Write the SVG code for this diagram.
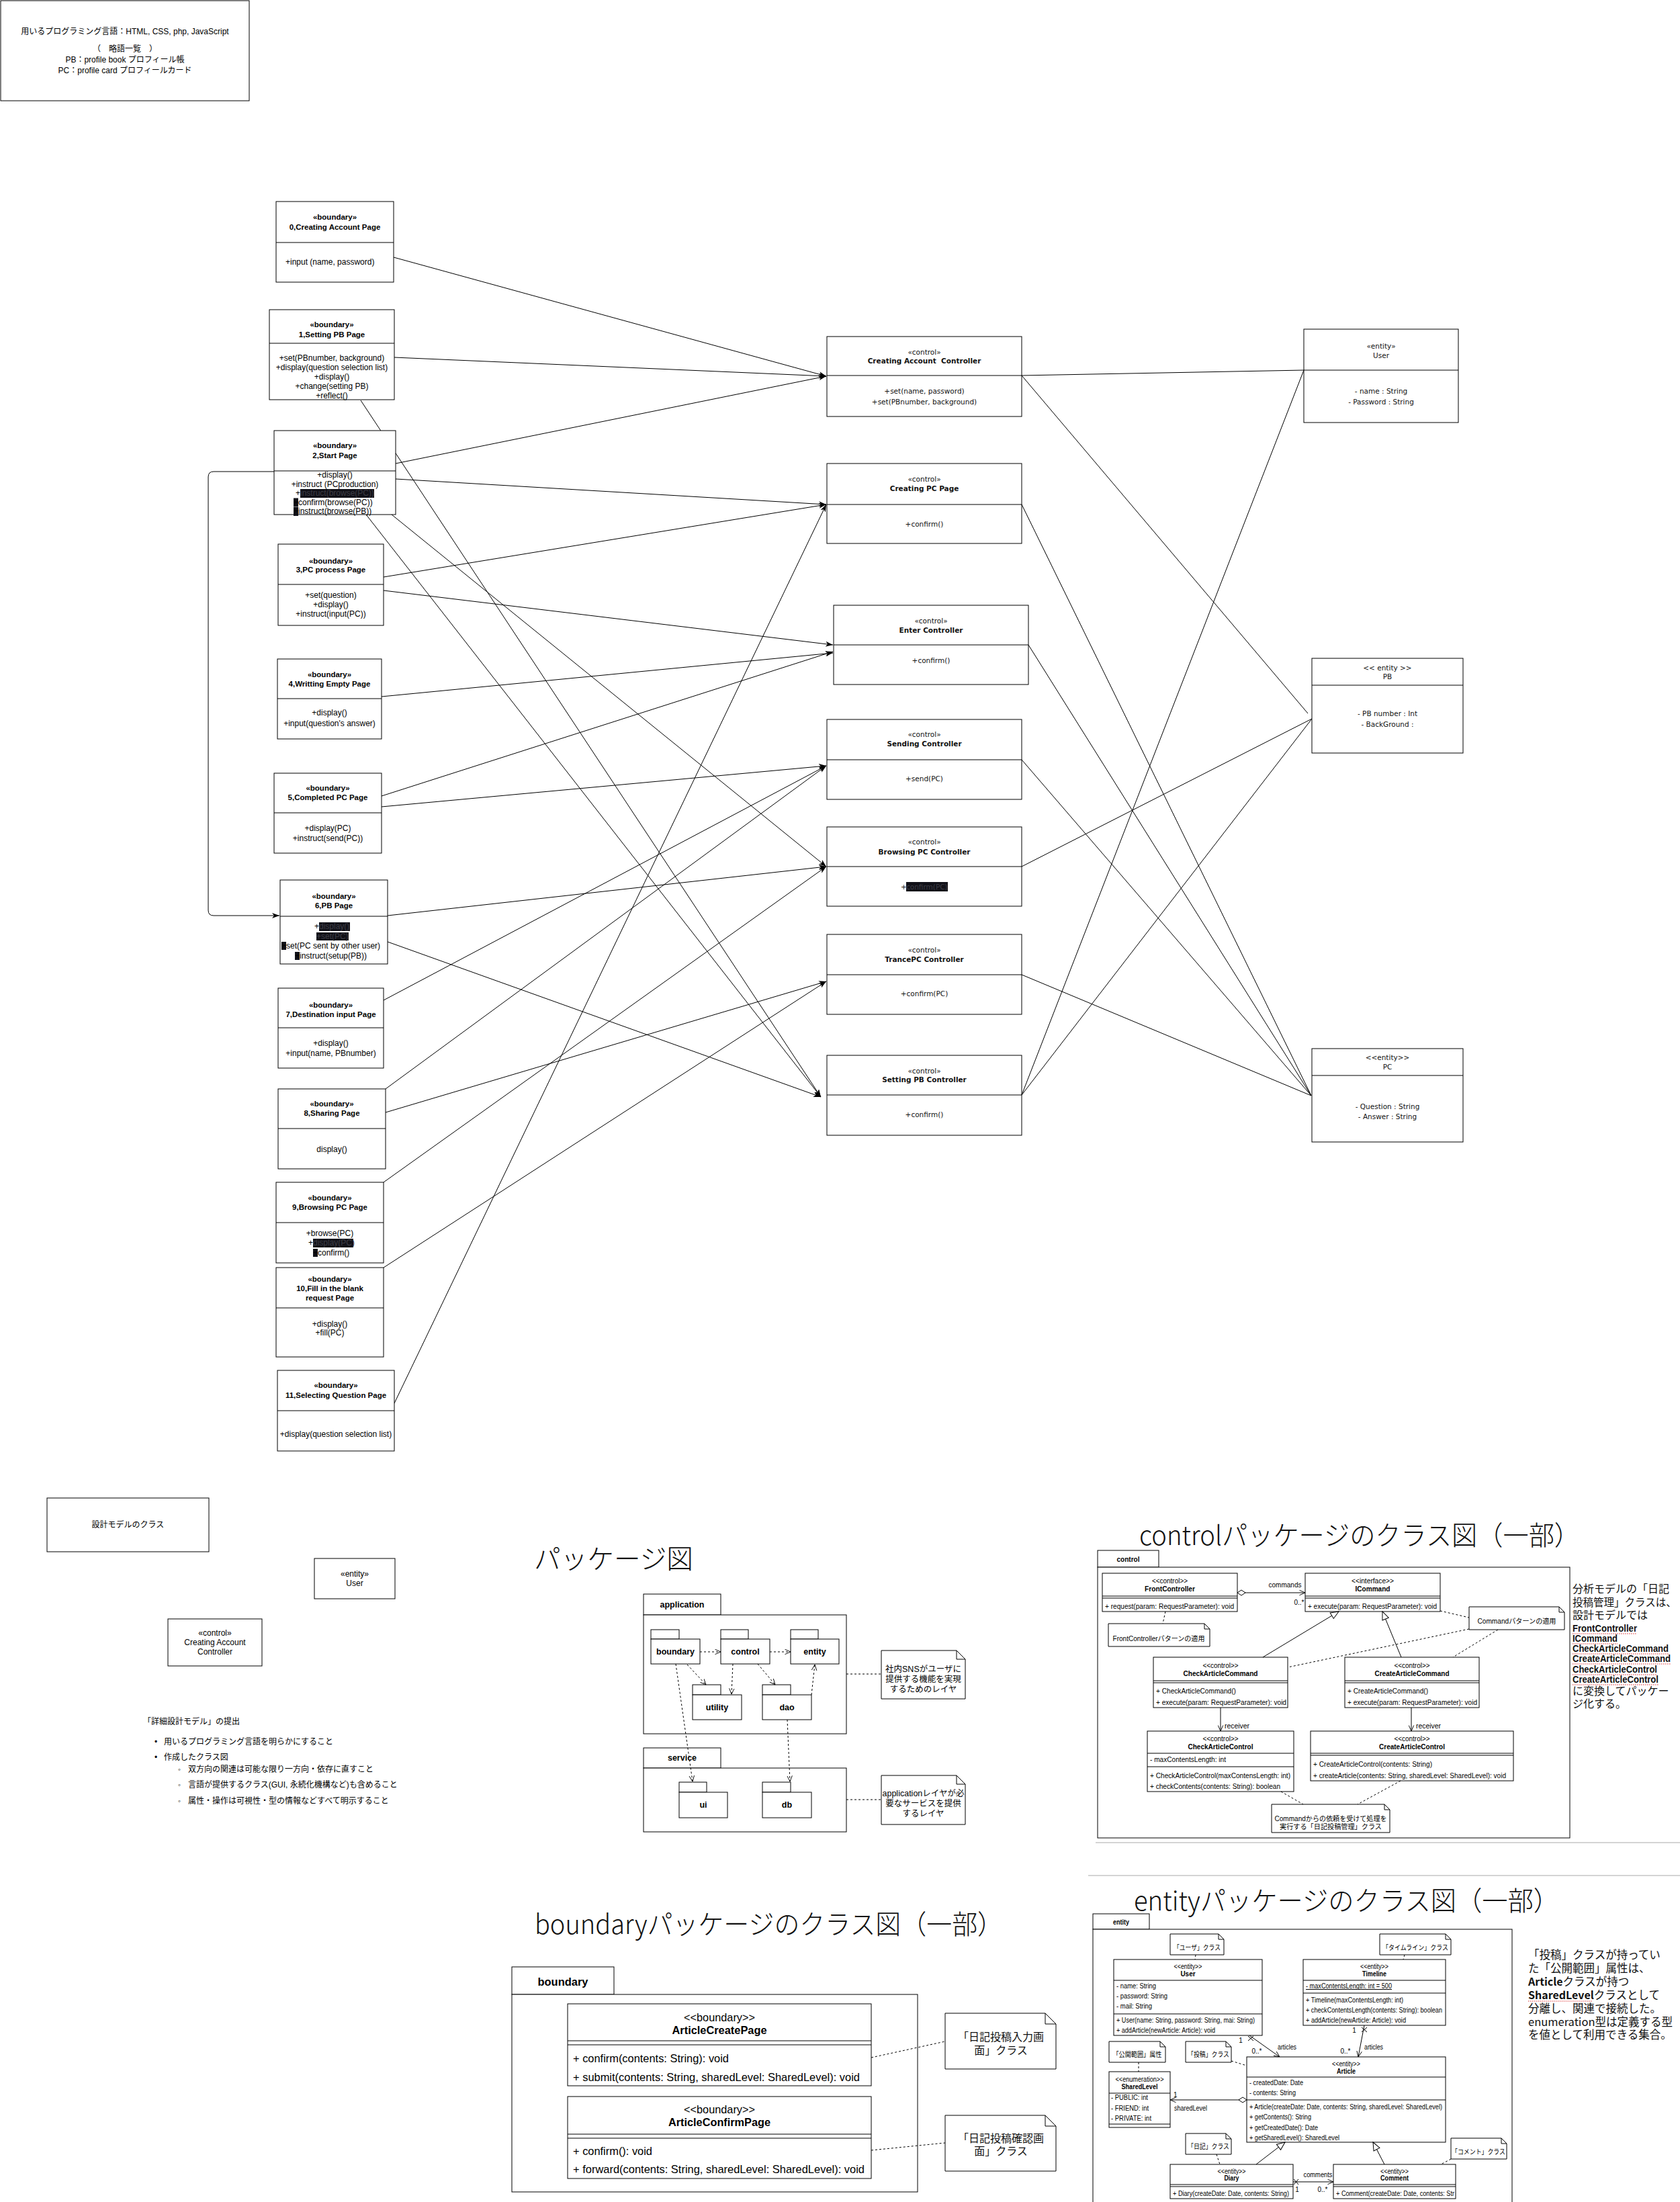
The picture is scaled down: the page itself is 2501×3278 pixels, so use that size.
<svg xmlns="http://www.w3.org/2000/svg" width="2501" height="3278" viewBox="0 0 2501 3278">
<defs>
<style>
text{font-family:"Liberation Sans","Noto Sans CJK JP",sans-serif;fill:#000}
.c{text-anchor:middle}
.bo{font-weight:bold}
.s12{font-size:12px}
.s11{font-size:11.5px;font-weight:bold}
.d{font-family:"DejaVu Sans","Noto Sans CJK JP",sans-serif;font-size:10.5px;fill:#111}
.dn{font-family:"DejaVu Sans","Noto Sans CJK JP",sans-serif;font-size:10.5px;font-weight:bold;fill:#111}
.k{font-size:10px}
.kn{font-size:10px;font-weight:bold}
.p{font-size:12.5px}
.pb{font-size:12.5px;font-weight:bold}
.bf{font-size:17px}
.bfn{font-size:17px;font-weight:bold}
.ttl{font-family:"Noto Sans CJK JP",sans-serif;font-weight:300;font-size:40px;fill:#111}
.rt{font-family:"Noto Sans CJK JP","Liberation Sans",sans-serif;font-size:16px;fill:#111}
.rb{font-size:16px;font-weight:bold;fill:#111}
.rb2{font-size:14.5px;font-weight:bold;fill:#111}
.box{fill:#fff;stroke:#000;stroke-width:1}
.ln{fill:none;stroke:#000;stroke-width:1}
.dl{fill:none;stroke:#000;stroke-width:1;stroke-dasharray:3 3}
.hl{fill:#111118}
.ht{fill:#3c3c44}
.sq{fill:none;stroke:#e03030;stroke-width:1.2;stroke-dasharray:1.5 1.5}
.sep{stroke:#d4d4d4;stroke-width:2}
</style>
<marker id="af" viewBox="0 0 11 8" refX="11" refY="4" markerWidth="11" markerHeight="8" markerUnits="userSpaceOnUse" orient="auto"><path d="M0,0 L11,4 L0,8 L3,4 z" fill="#000"/></marker>
<marker id="ao" viewBox="0 0 10 10" refX="9.5" refY="5" markerWidth="9" markerHeight="9" markerUnits="userSpaceOnUse" orient="auto"><path d="M0,0.8 L9.5,5 L0,9.2" fill="none" stroke="#000" stroke-width="1"/></marker>
<marker id="tri" viewBox="0 0 14 12" refX="13" refY="6" markerWidth="14" markerHeight="12" markerUnits="userSpaceOnUse" orient="auto"><path d="M1,1 L13,6 L1,11 z" fill="#fff" stroke="#000"/></marker>
<marker id="dia" viewBox="0 0 14 10" refX="1" refY="5" markerWidth="14" markerHeight="10" markerUnits="userSpaceOnUse" orient="auto"><path d="M1,5 L7,1 L13,5 L7,9 z" fill="#fff" stroke="#000"/></marker>
</defs>
<rect x="0" y="0" width="2501" height="3278" fill="#fff"/>

<g id="header">
<rect class="box" x="1" y="1" width="370" height="149"/>
<text class="s12 c" x="186" y="51">用いるプログラミング言語：HTML, CSS, php, JavaScript</text>
<text class="s12 c" x="186" y="77">（　略語一覧　）</text>
<text class="s12 c" x="186" y="93">PB：profile book プロフィール帳</text>
<text class="s12 c" x="186" y="109">PC：profile card プロフィールカード</text>
</g>

<g id="connectors">
<line class="ln" x1="586" y1="383" x2="1230" y2="560" marker-end="url(#af)"/>
<line class="ln" x1="587" y1="532" x2="1230" y2="560" marker-end="url(#af)"/>
<line class="ln" x1="589" y1="690" x2="1230" y2="560" marker-end="url(#af)"/>
<line class="ln" x1="537" y1="596" x2="1222" y2="1633" marker-end="url(#af)"/>
<line class="ln" x1="589" y1="713" x2="1230" y2="751" marker-end="url(#af)"/>
<line class="ln" x1="583" y1="766" x2="1230" y2="1290" marker-end="url(#af)"/>
<line class="ln" x1="545" y1="766" x2="1222" y2="1633" marker-end="url(#af)"/>
<line class="ln" x1="571" y1="859" x2="1230" y2="751" marker-end="url(#af)"/>
<line class="ln" x1="571" y1="879" x2="1240" y2="960" marker-end="url(#af)"/>
<line class="ln" x1="568" y1="1037" x2="1240" y2="972" marker-end="url(#af)"/>
<line class="ln" x1="568" y1="1185" x2="1240" y2="970" marker-end="url(#af)"/>
<line class="ln" x1="568" y1="1201" x2="1230" y2="1140" marker-end="url(#af)"/>
<line class="ln" x1="577" y1="1363" x2="1230" y2="1290" marker-end="url(#af)"/>
<line class="ln" x1="577" y1="1402" x2="1222" y2="1633" marker-end="url(#af)"/>
<line class="ln" x1="571" y1="1489" x2="1230" y2="1140" marker-end="url(#af)"/>
<line class="ln" x1="574" y1="1621" x2="1230" y2="1140" marker-end="url(#af)"/>
<line class="ln" x1="574" y1="1656" x2="1230" y2="1461" marker-end="url(#af)"/>
<line class="ln" x1="571" y1="1760" x2="1230" y2="1290" marker-end="url(#af)"/>
<line class="ln" x1="571" y1="1887" x2="1230" y2="1461" marker-end="url(#af)"/>
<line class="ln" x1="587" y1="2089" x2="1230" y2="751" marker-end="url(#af)"/>
<path class="ln" d="M408,702 H318 Q310,702 310,710 V1355 Q310,1363 318,1363 H416" marker-end="url(#af)"/>
<line class="ln" x1="1241" y1="960" x2="1258" y2="960" marker-end="url(#af)"/>
<line class="ln" x1="1521" y1="559" x2="1941" y2="551"/>
<line class="ln" x1="1521" y1="559" x2="1947" y2="1062"/>
<line class="ln" x1="1521" y1="751" x2="1952" y2="1631"/>
<line class="ln" x1="1531" y1="960" x2="1952" y2="1631"/>
<line class="ln" x1="1521" y1="1131" x2="1952" y2="1631"/>
<line class="ln" x1="1521" y1="1290" x2="1953" y2="1070"/>
<line class="ln" x1="1521" y1="1451" x2="1952" y2="1631"/>
<line class="ln" x1="1521" y1="1630" x2="1941" y2="551"/>
<line class="ln" x1="1521" y1="1630" x2="1953" y2="1070"/>
</g>

<g id="b0">
<rect class="box" x="411" y="300" width="175" height="120"/>
<line class="ln" x1="411" y1="361" x2="586" y2="361"/>
<text class="s11 c" x="498.5" y="327">«boundary»</text>
<text class="s11 c" x="498.5" y="342">0,Creating Account Page</text>
<text class="s12" x="425" y="394">+input (name, password)</text>
</g>
<g id="b1">
<rect class="box" x="401" y="461" width="186" height="134"/>
<line class="ln" x1="401" y1="511" x2="587" y2="511"/>
<text class="s11 c" x="494" y="487">«boundary»</text>
<text class="s11 c" x="494" y="502">1,Setting PB Page</text>
<text class="s12 c" x="494" y="537">+set(PBnumber, background)</text>
<text class="s12 c" x="494" y="551">+display(question selection list)</text>
<text class="s12 c" x="494" y="565">+display()</text>
<text class="s12 c" x="494" y="579">+change(setting PB)</text>
<text class="s12 c" x="494" y="593">+reflect()</text>
</g>
<g id="b2">
<rect class="box" x="408" y="641" width="181" height="125"/>
<line class="ln" x1="408" y1="701" x2="589" y2="701"/>
<text class="s11 c" x="498.5" y="667">«boundary»</text>
<text class="s11 c" x="498.5" y="682">2,Start Page</text>
<text class="s12 c" x="498.5" y="711">+display()</text>
<text class="s12 c" x="498.5" y="724.5">+instruct (PCproduction)</text>
<text class="s12" x="440" y="738">+</text>
<rect class="hl" x="447" y="728" width="110" height="13"/>
<text class="s12 ht" x="447" y="738">instruct(browse(PC))</text>
<rect class="hl" x="437" y="741.5" width="7" height="13"/>
<text class="s12" x="437" y="751.5">+confirm(browse(PC))</text>
<rect class="hl" x="437" y="755" width="7" height="13"/>
<text class="s12" x="437" y="765">+instruct(browse(PB))</text>
</g>
<g id="b3">
<rect class="box" x="414" y="810" width="157" height="121"/>
<line class="ln" x1="414" y1="870" x2="571" y2="870"/>
<text class="s11 c" x="492.5" y="839">«boundary»</text>
<text class="s11 c" x="492.5" y="852">3,PC process Page</text>
<text class="s12 c" x="492.5" y="890">+set(question)</text>
<text class="s12 c" x="492.5" y="904">+display()</text>
<text class="s12 c" x="492.5" y="918">+instruct(input(PC))</text>
</g>
<g id="b4">
<rect class="box" x="413" y="981" width="155" height="119"/>
<line class="ln" x1="413" y1="1040" x2="568" y2="1040"/>
<text class="s11 c" x="490.5" y="1008">«boundary»</text>
<text class="s11 c" x="490.5" y="1022">4,Writting Empty Page</text>
<text class="s12 c" x="490.5" y="1065">+display()</text>
<text class="s12 c" x="490.5" y="1081">+input(question's answer)</text>
</g>
<g id="b5">
<rect class="box" x="408" y="1151" width="160" height="119"/>
<line class="ln" x1="408" y1="1210" x2="568" y2="1210"/>
<text class="s11 c" x="488" y="1177">«boundary»</text>
<text class="s11 c" x="488" y="1191">5,Completed PC Page</text>
<text class="s12 c" x="488" y="1237">+display(PC)</text>
<text class="s12 c" x="488" y="1252">+instruct(send(PC))</text>
</g>
<g id="b6">
<rect class="box" x="417" y="1310" width="160" height="125"/>
<line class="ln" x1="417" y1="1364" x2="577" y2="1364"/>
<text class="s11 c" x="497" y="1338">«boundary»</text>
<text class="s11 c" x="497" y="1352">6,PB Page</text>
<text class="s12" x="468" y="1383">+</text>
<rect class="hl" x="475" y="1373" width="46" height="13"/>
<text class="s12 ht" x="475" y="1383">display()</text>
<rect class="hl" x="471" y="1388" width="48" height="12"/>
<text class="s12 ht" x="471" y="1398">+set(PC)</text>
<rect class="hl" x="419" y="1402" width="7" height="12"/>
<text class="s12" x="419" y="1412">+set(PC sent by other user)</text>
<rect class="hl" x="439" y="1417" width="7" height="12"/>
<text class="s12" x="439" y="1427">+instruct(setup(PB))</text>
</g>
<g id="b7">
<rect class="box" x="414" y="1471" width="157" height="119"/>
<line class="ln" x1="414" y1="1530" x2="571" y2="1530"/>
<text class="s11 c" x="492.5" y="1500">«boundary»</text>
<text class="s11 c" x="492.5" y="1514">7,Destination input Page</text>
<text class="s12 c" x="492.5" y="1557">+display()</text>
<text class="s12 c" x="492.5" y="1572">+input(name, PBnumber)</text>
</g>
<g id="b8">
<rect class="box" x="414" y="1621" width="160" height="119"/>
<line class="ln" x1="414" y1="1680" x2="574" y2="1680"/>
<text class="s11 c" x="494" y="1647">«boundary»</text>
<text class="s11 c" x="494" y="1661">8,Sharing Page</text>
<text class="s12 c" x="494" y="1715">display()</text>
</g>
<g id="b9">
<rect class="box" x="411" y="1760" width="160" height="120"/>
<line class="ln" x1="411" y1="1820" x2="571" y2="1820"/>
<text class="s11 c" x="491" y="1787">«boundary»</text>
<text class="s11 c" x="491" y="1801">9,Browsing PC Page</text>
<text class="s12 c" x="491" y="1840">+browse(PC)</text>
<text class="s12" x="459" y="1854">+</text>
<rect class="hl" x="466" y="1844" width="60" height="13"/>
<text class="s12 ht" x="466" y="1854">display(PC)</text>
<rect class="hl" x="466" y="1859" width="7" height="12"/>
<text class="s12" x="466" y="1869">+confirm()</text>
</g>
<g id="b10">
<rect class="box" x="411" y="1887" width="160" height="133"/>
<line class="ln" x1="411" y1="1947" x2="571" y2="1947"/>
<text class="s11 c" x="491" y="1908">«boundary»</text>
<text class="s11 c" x="491" y="1922">10,Fill in the blank</text>
<text class="s11 c" x="491" y="1936">request Page</text>
<text class="s12 c" x="491" y="1975">+display()</text>
<text class="s12 c" x="491" y="1988">+fill(PC)</text>
</g>
<g id="b11">
<rect class="box" x="413" y="2040" width="174" height="120"/>
<line class="ln" x1="413" y1="2100" x2="587" y2="2100"/>
<text class="s11 c" x="500" y="2066">«boundary»</text>
<text class="s11 c" x="500" y="2081">11,Selecting Question Page</text>
<text class="s12 c" x="500" y="2139">+display(question selection list)</text>
</g>

<g id="c1">
<rect class="box" x="1231" y="501" width="290" height="119"/>
<line class="ln" x1="1231" y1="559" x2="1521" y2="559"/>
<text class="d c" x="1376" y="528">«control»</text>
<text class="dn c" x="1376" y="541">Creating Account&#160; Controller</text>
<text class="d c" x="1376" y="586">+set(name, password)</text>
<text class="d c" x="1376" y="602">+set(PBnumber, background)</text>
</g>
<g id="c2">
<rect class="box" x="1231" y="690" width="290" height="119"/>
<line class="ln" x1="1231" y1="751" x2="1521" y2="751"/>
<text class="d c" x="1376" y="717">«control»</text>
<text class="dn c" x="1376" y="731">Creating PC Page</text>
<text class="d c" x="1376" y="784">+confirm()</text>
</g>
<g id="c3">
<rect class="box" x="1241" y="901" width="290" height="118"/>
<line class="ln" x1="1241" y1="960" x2="1531" y2="960"/>
<text class="d c" x="1386" y="928">«control»</text>
<text class="dn c" x="1386" y="942">Enter Controller</text>
<text class="d c" x="1386" y="987">+confirm()</text>
</g>
<g id="c4">
<rect class="box" x="1231" y="1071" width="290" height="119"/>
<line class="ln" x1="1231" y1="1131" x2="1521" y2="1131"/>
<text class="d c" x="1376" y="1097">«control»</text>
<text class="dn c" x="1376" y="1111">Sending Controller</text>
<text class="d c" x="1376" y="1163">+send(PC)</text>
</g>
<g id="c5">
<rect class="box" x="1231" y="1231" width="290" height="118"/>
<line class="ln" x1="1231" y1="1290" x2="1521" y2="1290"/>
<text class="d c" x="1376" y="1257">«control»</text>
<text class="dn c" x="1376" y="1272">Browsing PC Controller</text>
<text class="d" x="1341" y="1324">+</text>
<rect class="hl" x="1349" y="1313" width="62" height="14"/>
<text class="d ht" x="1349" y="1324">confirm(PC)</text>
</g>
<g id="c6">
<rect class="box" x="1231" y="1391" width="290" height="119"/>
<line class="ln" x1="1231" y1="1451" x2="1521" y2="1451"/>
<text class="d c" x="1376" y="1418">«control»</text>
<text class="dn c" x="1376" y="1432">TrancePC Controller</text>
<text class="d c" x="1376" y="1483">+confirm(PC)</text>
</g>
<g id="c7">
<rect class="box" x="1231" y="1571" width="290" height="119"/>
<line class="ln" x1="1231" y1="1630" x2="1521" y2="1630"/>
<text class="d c" x="1376" y="1598">«control»</text>
<text class="dn c" x="1376" y="1611">Setting PB Controller</text>
<text class="d c" x="1376" y="1663">+confirm()</text>
</g>

<g id="e-user">
<rect class="box" x="1941" y="490" width="230" height="139"/>
<line class="ln" x1="1941" y1="551" x2="2171" y2="551"/>
<text class="d c" x="2056" y="519">«entity»</text>
<text class="d c" x="2056" y="533">User</text>
<text class="d c" x="2056" y="586">- name : String</text>
<text class="d c" x="2056" y="602">- Password : String</text>
</g>
<g id="e-pb">
<rect class="box" x="1953" y="980" width="225" height="141"/>
<line class="ln" x1="1953" y1="1020" x2="2178" y2="1020"/>
<text class="d c" x="2065.5" y="998">&lt;&lt; entity &gt;&gt;</text>
<text class="d c" x="2065.5" y="1011">PB</text>
<text class="d c" x="2065.5" y="1066">- PB number : Int</text>
<text class="d c" x="2065.5" y="1082">- BackGround :</text>
</g>
<g id="e-pc">
<rect class="box" x="1953" y="1561" width="225" height="139"/>
<line class="ln" x1="1953" y1="1601" x2="2178" y2="1601"/>
<text class="d c" x="2065.5" y="1578">&lt;&lt;entity&gt;&gt;</text>
<text class="d c" x="2065.5" y="1592">PC</text>
<text class="d c" x="2065.5" y="1651">- Question : String</text>
<text class="d c" x="2065.5" y="1666">- Answer : String</text>
</g>

<g id="design-model">
<rect class="box" x="70" y="2230" width="241" height="80"/>
<text class="s12 c" x="190.5" y="2274">設計モデルのクラス</text>
<rect class="box" x="468" y="2320" width="120" height="60"/>
<text class="s12 c" x="528" y="2347">«entity»</text>
<text class="s12 c" x="528" y="2361">User</text>
<rect class="box" x="250" y="2410" width="140" height="70"/>
<text class="s12 c" x="320" y="2435">«control»</text>
<text class="s12 c" x="320" y="2449">Creating Account</text>
<text class="s12 c" x="320" y="2463">Controller</text>
</g>
<g id="requirements">
<text class="s12" x="213" y="2567" fill="#222">「詳細設計モデル」の提出</text>
<text class="s12" x="230" y="2597">•</text>
<text class="s12" x="244" y="2597">用いるプログラミング言語を明らかにすること</text>
<text class="s12" x="230" y="2620">•</text>
<text class="s12" x="244" y="2620">作成したクラス図</text>
<text class="s12" x="265" y="2638">◦</text>
<text class="s12" x="280" y="2638">双方向の関連は可能な限り一方向・依存に直すこと</text>
<text class="s12" x="265" y="2661">◦</text>
<text class="s12" x="280" y="2661">言語が提供するクラス(GUI, 永続化機構など)も含めること</text>
<text class="s12" x="265" y="2685">◦</text>
<text class="s12" x="280" y="2685">属性・操作は可視性・型の情報などすべて明示すること</text>
</g>

<g id="package-diagram">
<text class="ttl" x="795" y="2335" textLength="237" lengthAdjust="spacingAndGlyphs">パッケージ図</text>
<rect class="box" x="958" y="2373" width="115" height="31"/>
<rect class="box" x="958" y="2404" width="302" height="177"/>
<text class="pb c" x="1015.5" y="2393">application</text>
<rect class="box" x="969" y="2426" width="42" height="14"/>
<rect class="box" x="969" y="2440" width="73" height="37"/>
<text class="pb c" x="1005.5" y="2463">boundary</text>
<rect class="box" x="1073" y="2426" width="41" height="14"/>
<rect class="box" x="1073" y="2440" width="73" height="37"/>
<text class="pb c" x="1109.5" y="2463">control</text>
<rect class="box" x="1177" y="2426" width="41" height="14"/>
<rect class="box" x="1177" y="2440" width="72" height="37"/>
<text class="pb c" x="1213" y="2463">entity</text>
<rect class="box" x="1031" y="2508" width="42" height="15"/>
<rect class="box" x="1031" y="2523" width="73" height="37"/>
<text class="pb c" x="1067.5" y="2546">utility</text>
<rect class="box" x="1135" y="2508" width="42" height="15"/>
<rect class="box" x="1135" y="2523" width="73" height="37"/>
<text class="pb c" x="1171.5" y="2546">dao</text>
<rect class="box" x="958" y="2602" width="115" height="30"/>
<rect class="box" x="958" y="2632" width="302" height="95"/>
<text class="pb c" x="1015.5" y="2621">service</text>
<rect class="box" x="1011" y="2653" width="41" height="15"/>
<rect class="box" x="1011" y="2668" width="72" height="38"/>
<text class="pb c" x="1047" y="2691">ui</text>
<rect class="box" x="1135" y="2653" width="42" height="15"/>
<rect class="box" x="1135" y="2668" width="73" height="38"/>
<text class="pb c" x="1171.5" y="2691">db</text>
<line class="dl" x1="1042" y1="2459" x2="1073" y2="2459" marker-end="url(#ao)"/>
<line class="dl" x1="1146" y1="2459" x2="1177" y2="2459" marker-end="url(#ao)"/>
<line class="dl" x1="1023" y1="2478" x2="1051" y2="2508" marker-end="url(#ao)"/>
<line class="dl" x1="1091" y1="2477" x2="1089" y2="2522" marker-end="url(#ao)"/>
<line class="dl" x1="1128" y1="2477" x2="1154" y2="2508" marker-end="url(#ao)"/>
<line class="dl" x1="1208" y1="2523" x2="1213" y2="2478" marker-end="url(#ao)"/>
<line class="dl" x1="1006" y1="2477" x2="1031" y2="2652" marker-end="url(#ao)"/>
<line class="dl" x1="1172" y1="2560" x2="1176" y2="2652" marker-end="url(#ao)"/>
<line class="dl" x1="1260" y1="2492" x2="1312" y2="2492"/>
<line class="dl" x1="1260" y1="2679" x2="1312" y2="2679"/>
<path class="box" d="M1312,2457 H1424 L1437,2470 V2529 H1312 Z"/>
<path class="ln" d="M1424,2457 V2470 H1437"/>
<text class="p c" x="1374.5" y="2489">社内SNSがユーザに</text>
<text class="p c" x="1374.5" y="2504">提供する機能を実現</text>
<text class="p c" x="1374.5" y="2519">するためのレイヤ</text>
<path class="box" d="M1312,2643 H1424 L1437,2656 V2716 H1312 Z"/>
<path class="ln" d="M1424,2643 V2656 H1437"/>
<text class="p c" x="1374.5" y="2674" textLength="122" lengthAdjust="spacingAndGlyphs">applicationレイヤが必</text>
<text class="p c" x="1374.5" y="2689">要なサービスを提供</text>
<text class="p c" x="1374.5" y="2704">するレイヤ</text>
</g>

<g id="control-class-diagram">
<text class="ttl" x="1696" y="2300" textLength="656" lengthAdjust="spacingAndGlyphs">controlパッケージのクラス図（一部）</text>
<rect class="box" x="1634" y="2308" width="91" height="25"/>
<rect class="box" x="1634" y="2333" width="703" height="403"/>
<text class="kn c" x="1679.5" y="2325" textLength="34" lengthAdjust="spacingAndGlyphs">control</text>
<rect class="box" x="1641" y="2342" width="201" height="57"/>
<line class="ln" x1="1641" y1="2376" x2="1842" y2="2376"/>
<line class="ln" x1="1641" y1="2379" x2="1842" y2="2379"/>
<text class="k c" x="1741.5" y="2356.5" textLength="53" lengthAdjust="spacingAndGlyphs">&lt;&lt;control&gt;&gt;</text>
<text class="kn c" x="1741.5" y="2368.5" textLength="75" lengthAdjust="spacingAndGlyphs">FrontController</text>
<text class="k" x="1645" y="2394.5" textLength="192" lengthAdjust="spacingAndGlyphs">+ request(param: RequestParameter): void</text>
<rect class="box" x="1943" y="2342" width="201" height="57"/>
<line class="ln" x1="1943" y1="2376" x2="2144" y2="2376"/>
<line class="ln" x1="1943" y1="2379" x2="2144" y2="2379"/>
<text class="k c" x="2043.5" y="2356.5" textLength="63" lengthAdjust="spacingAndGlyphs">&lt;&lt;interface&gt;&gt;</text>
<text class="kn c" x="2043.5" y="2368.5" textLength="52" lengthAdjust="spacingAndGlyphs">ICommand</text>
<text class="k" x="1947" y="2394.5" textLength="192" lengthAdjust="spacingAndGlyphs">+ execute(param: RequestParameter): void</text>
<line class="ln" x1="1842" y1="2371" x2="1943" y2="2371" marker-start="url(#dia)" marker-end="url(#ao)"/>
<text class="k c" x="1913" y="2362.5" textLength="49" lengthAdjust="spacingAndGlyphs">commands</text>
<text class="k c" x="1934" y="2388.5">0..*</text>
<line class="dl" x1="1735" y1="2399" x2="1731" y2="2417"/>
<path class="box" d="M1650,2417 H1793 L1801,2425 V2451 H1650 Z"/>
<path class="ln" d="M1793,2417 V2425 H1801"/>
<text class="k c" x="1725" y="2442.5" textLength="137" lengthAdjust="spacingAndGlyphs">FrontControllerパターンの適用</text>
<line class="dl" x1="2144" y1="2398" x2="2187" y2="2408"/>
<line class="dl" x1="2187" y1="2425" x2="1917" y2="2482"/>
<line class="dl" x1="2230" y1="2426" x2="2163" y2="2467"/>
<path class="box" d="M2187,2392 H2321 L2329,2400 V2426 H2187 Z"/>
<path class="ln" d="M2321,2392 V2400 H2329"/>
<text class="k c" x="2258" y="2416.5" textLength="117" lengthAdjust="spacingAndGlyphs">Commandパターンの適用</text>
<rect class="box" x="1717" y="2467" width="200" height="75"/>
<line class="ln" x1="1717" y1="2502" x2="1917" y2="2502"/>
<line class="ln" x1="1717" y1="2505" x2="1917" y2="2505"/>
<text class="k c" x="1817" y="2482.5" textLength="53" lengthAdjust="spacingAndGlyphs">&lt;&lt;control&gt;&gt;</text>
<text class="kn c" x="1817" y="2494.5" textLength="111" lengthAdjust="spacingAndGlyphs">CheckArticleCommand</text>
<text class="k" x="1721" y="2520.5" textLength="119" lengthAdjust="spacingAndGlyphs">+ CheckArticleCommand()</text>
<text class="k" x="1721" y="2537.5" textLength="194" lengthAdjust="spacingAndGlyphs">+ execute(param: RequestParameter): void</text>
<rect class="box" x="2002" y="2467" width="200" height="75"/>
<line class="ln" x1="2002" y1="2502" x2="2202" y2="2502"/>
<line class="ln" x1="2002" y1="2505" x2="2202" y2="2505"/>
<text class="k c" x="2102" y="2482.5" textLength="53" lengthAdjust="spacingAndGlyphs">&lt;&lt;control&gt;&gt;</text>
<text class="kn c" x="2102" y="2494.5" textLength="111" lengthAdjust="spacingAndGlyphs">CreateArticleCommand</text>
<text class="k" x="2006" y="2520.5" textLength="120" lengthAdjust="spacingAndGlyphs">+ CreateArticleCommand()</text>
<text class="k" x="2006" y="2537.5" textLength="193" lengthAdjust="spacingAndGlyphs">+ execute(param: RequestParameter): void</text>
<line class="ln" x1="1880" y1="2467" x2="1993" y2="2399" marker-end="url(#tri)"/>
<line class="ln" x1="2086" y1="2467" x2="2058" y2="2399" marker-end="url(#tri)"/>
<line class="ln" x1="1817" y1="2542" x2="1817" y2="2577" marker-end="url(#ao)"/>
<text class="k" x="1823" y="2572.5" textLength="37" lengthAdjust="spacingAndGlyphs">receiver</text>
<line class="ln" x1="2101" y1="2542" x2="2101" y2="2577" marker-end="url(#ao)"/>
<text class="k" x="2108" y="2572.5" textLength="37" lengthAdjust="spacingAndGlyphs">receiver</text>
<rect class="box" x="1708" y="2577" width="218" height="90"/>
<line class="ln" x1="1708" y1="2610" x2="1926" y2="2610"/>
<line class="ln" x1="1708" y1="2630" x2="1926" y2="2630"/>
<text class="k c" x="1817" y="2591.5" textLength="53" lengthAdjust="spacingAndGlyphs">&lt;&lt;control&gt;&gt;</text>
<text class="kn c" x="1817" y="2603.5" textLength="97" lengthAdjust="spacingAndGlyphs">CheckArticleControl</text>
<text class="k" x="1712" y="2622.5" textLength="113" lengthAdjust="spacingAndGlyphs">- maxContentsLength: int</text>
<text class="k" x="1712" y="2646.5" textLength="209" lengthAdjust="spacingAndGlyphs">+ CheckArticleControl(maxContensLength: int)</text>
<text class="k" x="1712" y="2662.5" textLength="194" lengthAdjust="spacingAndGlyphs">+ checkContents(contents: String): boolean</text>
<rect class="box" x="1951" y="2577" width="302" height="74"/>
<line class="ln" x1="1951" y1="2610" x2="2253" y2="2610"/>
<line class="ln" x1="1951" y1="2613" x2="2253" y2="2613"/>
<text class="k c" x="2102" y="2591.5" textLength="53" lengthAdjust="spacingAndGlyphs">&lt;&lt;control&gt;&gt;</text>
<text class="kn c" x="2102" y="2603.5" textLength="98" lengthAdjust="spacingAndGlyphs">CreateArticleControl</text>
<text class="k" x="1955" y="2629.5" textLength="177" lengthAdjust="spacingAndGlyphs">+ CreateArticleControl(contents: String)</text>
<text class="k" x="1955" y="2646.5" textLength="287" lengthAdjust="spacingAndGlyphs">+ createArticle(contents: String, sharedLevel: SharedLevel): void</text>
<line class="dl" x1="1907" y1="2667" x2="1940" y2="2686"/>
<line class="dl" x1="2085" y1="2651" x2="2021" y2="2686"/>
<path class="box" d="M1893,2686 H2061 L2069,2694 V2728 H1893 Z"/>
<path class="ln" d="M2061,2686 V2694 H2069"/>
<text class="k c" x="1981" y="2710.5" textLength="167" lengthAdjust="spacingAndGlyphs">Commandからの依頼を受けて処理を</text>
<text class="k c" x="1981" y="2722.5" textLength="152" lengthAdjust="spacingAndGlyphs">実行する「日記投稿管理」クラス</text>
</g>
<g id="control-notes">
<text class="rt" x="2341" y="2371">分析モデルの「日記</text>
<text class="rt" x="2341" y="2391" style="font-size:15.5px">投稿管理」クラスは、</text>
<text class="rt" x="2341" y="2410">設計モデルでは</text>
<text class="rb2" x="2341" y="2429" textLength="96" lengthAdjust="spacingAndGlyphs">FrontController</text>
<text class="rb2" x="2341" y="2444" textLength="67" lengthAdjust="spacingAndGlyphs">ICommand</text>
<text class="rb2" x="2341" y="2459" textLength="143" lengthAdjust="spacingAndGlyphs">CheckArticleCommand</text>
<text class="rb2" x="2341" y="2474" textLength="146" lengthAdjust="spacingAndGlyphs">CreateArticleCommand</text>
<text class="rb2" x="2341" y="2490" textLength="126" lengthAdjust="spacingAndGlyphs">CheckArticleControl</text>
<text class="rb2" x="2341" y="2505" textLength="128" lengthAdjust="spacingAndGlyphs">CreateArticleControl</text>
<text class="rt" x="2341" y="2523">に変換してパッケー</text>
<text class="rt" x="2341" y="2542">ジ化する。</text>
<line class="sq" x1="2341" y1="2432" x2="2437" y2="2432"/>
<line class="sq" x1="2341" y1="2447" x2="2408" y2="2447"/>
<line class="sq" x1="2341" y1="2462" x2="2484" y2="2462"/>
<line class="sq" x1="2341" y1="2477" x2="2487" y2="2477"/>
<line class="sq" x1="2341" y1="2493" x2="2467" y2="2493"/>
<line class="sq" x1="2341" y1="2508" x2="2469" y2="2508"/>
</g>
<line class="sep" x1="1631" y1="2743" x2="2501" y2="2743"/>
<line class="sep" x1="1620" y1="2792" x2="2501" y2="2792"/>

<g id="entity-class-diagram">
<text class="ttl" x="1688" y="2844" textLength="633" lengthAdjust="spacingAndGlyphs">entityパッケージのクラス図（一部）</text>
<rect class="box" x="1627" y="2849" width="84" height="23"/>
<rect class="box" x="1627" y="2872" width="624" height="430"/>
<text class="kn c" x="1669" y="2865" textLength="24" lengthAdjust="spacingAndGlyphs">entity</text>
<line class="dl" x1="1780" y1="2910" x2="1779" y2="2917"/>
<path class="box" d="M1742,2879 H1814 L1822,2887 V2910 H1742 Z"/>
<path class="ln" d="M1814,2879 V2887 H1822"/>
<text class="k c" x="1782" y="2902.5" textLength="70" lengthAdjust="spacingAndGlyphs">「ユーザ」クラス</text>
<rect class="box" x="1658" y="2917" width="221" height="113"/>
<line class="ln" x1="1658" y1="2948" x2="1879" y2="2948"/>
<line class="ln" x1="1658" y1="2998" x2="1879" y2="2998"/>
<text class="k c" x="1768.5" y="2931" textLength="42" lengthAdjust="spacingAndGlyphs">&lt;&lt;entity&gt;&gt;</text>
<text class="kn c" x="1768.5" y="2942">User</text>
<text class="k" x="1662" y="2959.5" textLength="59" lengthAdjust="spacingAndGlyphs">- name: String</text>
<text class="k" x="1662" y="2974.5" textLength="76" lengthAdjust="spacingAndGlyphs">- password: String</text>
<text class="k" x="1662" y="2989.5" textLength="53" lengthAdjust="spacingAndGlyphs">- mail: String</text>
<text class="k" x="1662" y="3010.5" textLength="206" lengthAdjust="spacingAndGlyphs">+ User(name: String, password: String, mai: String)</text>
<text class="k" x="1662" y="3025.5" textLength="147" lengthAdjust="spacingAndGlyphs">+ addArticle(newArticle: Article): void</text>
<line class="dl" x1="2091" y1="2910" x2="2089" y2="2917"/>
<path class="box" d="M2054,2879 H2152 L2160,2887 V2910 H2054 Z"/>
<path class="ln" d="M2152,2879 V2887 H2160"/>
<text class="k c" x="2107" y="2902.5" textLength="98" lengthAdjust="spacingAndGlyphs">「タイムライン」クラス</text>
<rect class="box" x="1940" y="2917" width="212" height="98"/>
<line class="ln" x1="1940" y1="2948" x2="2152" y2="2948"/>
<line class="ln" x1="1940" y1="2967" x2="2152" y2="2967"/>
<text class="k c" x="2046" y="2931" textLength="42" lengthAdjust="spacingAndGlyphs">&lt;&lt;entity&gt;&gt;</text>
<text class="kn c" x="2046" y="2942" textLength="36" lengthAdjust="spacingAndGlyphs">Timeline</text>
<text class="k" x="1944" y="2959.5" textLength="128" lengthAdjust="spacingAndGlyphs">- maxContentsLength: int = 500</text>
<line class="ln" x1="1944" y1="2961.5" x2="2072" y2="2961.5"/>
<text class="k" x="1944" y="2980.5" textLength="145" lengthAdjust="spacingAndGlyphs">+ Timeline(maxContentsLength: int)</text>
<text class="k" x="1944" y="2995.5" textLength="203" lengthAdjust="spacingAndGlyphs">+ checkContentsLength(contents: String): boolean</text>
<text class="k" x="1944" y="3010.5" textLength="149" lengthAdjust="spacingAndGlyphs">+ addArticle(newArticle: Article): void</text>
<line class="ln" x1="1860" y1="3030" x2="1905" y2="3062" marker-end="url(#ao)"/>
<path class="ln" d="M1858,3031 L1866,3038 M1866,3031 L1858,3038"/>
<text class="k c" x="1847" y="3040.5">1</text>
<text class="k c" x="1871" y="3056.5">0..*</text>
<text class="k c" x="1916" y="3050.5" textLength="28" lengthAdjust="spacingAndGlyphs">articles</text>
<line class="ln" x1="2031" y1="3015" x2="2022" y2="3062" marker-end="url(#ao)"/>
<path class="ln" d="M2027,3018 L2035,3025 M2035,3018 L2027,3025"/>
<text class="k c" x="2016" y="3025.5">1</text>
<text class="k c" x="2003" y="3056.5">0..*</text>
<text class="k c" x="2045" y="3050.5" textLength="28" lengthAdjust="spacingAndGlyphs">articles</text>
<line class="dl" x1="1695" y1="3070" x2="1695" y2="3084"/>
<path class="box" d="M1651,3039 H1727 L1735,3047 V3070 H1651 Z"/>
<path class="ln" d="M1727,3039 V3047 H1735"/>
<text class="k c" x="1693" y="3061.5" textLength="73" lengthAdjust="spacingAndGlyphs">「公開範囲」属性</text>
<line class="dl" x1="1833" y1="3068" x2="1856" y2="3075"/>
<path class="box" d="M1765,3039 H1825 L1833,3047 V3070 H1765 Z"/>
<path class="ln" d="M1825,3039 V3047 H1833"/>
<text class="k c" x="1799" y="3061.5" textLength="62" lengthAdjust="spacingAndGlyphs">「投稿」クラス</text>
<rect class="box" x="1651" y="3084" width="91" height="83"/>
<line class="ln" x1="1651" y1="3116" x2="1742" y2="3116"/>
<line class="ln" x1="1651" y1="3162" x2="1742" y2="3162"/>
<text class="k c" x="1696.5" y="3098.5" textLength="72" lengthAdjust="spacingAndGlyphs">&lt;&lt;enumeration&gt;&gt;</text>
<text class="kn c" x="1696.5" y="3109.5" textLength="54" lengthAdjust="spacingAndGlyphs">SharedLevel</text>
<text class="k" x="1654" y="3125.5" textLength="55" lengthAdjust="spacingAndGlyphs">- PUBLIC: int</text>
<text class="k" x="1654" y="3141.5" textLength="56" lengthAdjust="spacingAndGlyphs">- FRIEND: int</text>
<text class="k" x="1654" y="3156.5" textLength="60" lengthAdjust="spacingAndGlyphs">- PRIVATE: int</text>
<rect class="box" x="1856" y="3062" width="296" height="127"/>
<line class="ln" x1="1856" y1="3092" x2="2152" y2="3092"/>
<line class="ln" x1="1856" y1="3126" x2="2152" y2="3126"/>
<text class="k c" x="2004" y="3075.5" textLength="42" lengthAdjust="spacingAndGlyphs">&lt;&lt;entity&gt;&gt;</text>
<text class="kn c" x="2004" y="3086.5" textLength="28" lengthAdjust="spacingAndGlyphs">Article</text>
<text class="k" x="1860" y="3103.5" textLength="80" lengthAdjust="spacingAndGlyphs">- createdDate: Date</text>
<text class="k" x="1860" y="3118.5" textLength="69" lengthAdjust="spacingAndGlyphs">- contents: String</text>
<text class="k" x="1860" y="3139.5" textLength="287" lengthAdjust="spacingAndGlyphs">+ Article(createDate: Date, contents: String, sharedLevel: SharedLevel)</text>
<text class="k" x="1860" y="3154.5" textLength="92" lengthAdjust="spacingAndGlyphs">+ getContents(): String</text>
<text class="k" x="1860" y="3170.5" textLength="102" lengthAdjust="spacingAndGlyphs">+ getCreatedDate(): Date</text>
<text class="k" x="1860" y="3185.5" textLength="134" lengthAdjust="spacingAndGlyphs">+ getSharedLevel(): SharedLevel</text>
<line class="ln" x1="1856" y1="3126" x2="1742" y2="3126" marker-start="url(#dia)" marker-end="url(#ao)"/>
<text class="k" x="1747" y="3121.5">1</text>
<text class="k" x="1748" y="3141.5" textLength="49" lengthAdjust="spacingAndGlyphs">sharedLevel</text>
<line class="dl" x1="1811" y1="3207" x2="1816" y2="3222"/>
<path class="box" d="M1765,3176 H1825 L1833,3184 V3207 H1765 Z"/>
<path class="ln" d="M1825,3176 V3184 H1833"/>
<text class="k c" x="1799" y="3198.5" textLength="62" lengthAdjust="spacingAndGlyphs">「日記」クラス</text>
<line class="dl" x1="2160" y1="3214" x2="2145" y2="3222"/>
<path class="box" d="M2160,3183 H2235 L2243,3191 V3214 H2160 Z"/>
<path class="ln" d="M2235,3183 V3191 H2243"/>
<text class="k c" x="2201" y="3206.5" textLength="80" lengthAdjust="spacingAndGlyphs">「コメント」クラス</text>
<rect class="box" x="1742" y="3222" width="183" height="51"/>
<line class="ln" x1="1742" y1="3252" x2="1925" y2="3252"/>
<line class="ln" x1="1742" y1="3255" x2="1925" y2="3255"/>
<text class="k c" x="1833.5" y="3235.5" textLength="42" lengthAdjust="spacingAndGlyphs">&lt;&lt;entity&gt;&gt;</text>
<text class="kn c" x="1833.5" y="3246" textLength="22" lengthAdjust="spacingAndGlyphs">Diary</text>
<text class="k" x="1746" y="3268.5" textLength="173" lengthAdjust="spacingAndGlyphs">+ Diary(createDate: Date, contents: String)</text>
<rect class="box" x="1985" y="3222" width="182" height="51"/>
<line class="ln" x1="1985" y1="3252" x2="2167" y2="3252"/>
<line class="ln" x1="1985" y1="3255" x2="2167" y2="3255"/>
<text class="k c" x="2076" y="3235.5" textLength="42" lengthAdjust="spacingAndGlyphs">&lt;&lt;entity&gt;&gt;</text>
<text class="kn c" x="2076" y="3246" textLength="42" lengthAdjust="spacingAndGlyphs">Comment</text>
<text class="k" x="1989" y="3268.5" textLength="176" lengthAdjust="spacingAndGlyphs">+ Comment(createDate: Date, contents: Str</text>
<line class="ln" x1="1870" y1="3222" x2="1913" y2="3189" marker-end="url(#tri)"/>
<line class="ln" x1="2061" y1="3222" x2="2044" y2="3189" marker-end="url(#tri)"/>
<line class="ln" x1="1925" y1="3248" x2="1985" y2="3248" marker-end="url(#ao)"/>
<path class="ln" d="M1926,3244 L1933,3252 M1933,3244 L1926,3252"/>
<text class="k c" x="1962" y="3240.5" textLength="43" lengthAdjust="spacingAndGlyphs">comments</text>
<text class="k c" x="1931" y="3262.5">1</text>
<text class="k c" x="1969" y="3262.5">0..*</text>
</g>
<g id="entity-notes">
<text class="rt" x="2275" y="2916" style="font-size:16.5px">「投稿」クラスが持ってい</text>
<text class="rt" x="2275" y="2936" style="font-size:16.5px">た「公開範囲」属性は、</text>
<text class="rt" x="2275" y="2956" style="font-size:16.5px"><tspan class="rb">Article</tspan>クラスが持つ</text>
<text class="rt" x="2275" y="2976" style="font-size:16.5px"><tspan class="rb">SharedLevel</tspan>クラスとして</text>
<text class="rt" x="2275" y="2996" style="font-size:16.5px">分離し、関連で接続した。</text>
<text class="rt" x="2275" y="3016" style="font-size:16.5px">enumeration型は定義する型</text>
<text class="rt" x="2275" y="3035" style="font-size:16.5px">を値として利用できる集合。</text>
<line class="sq" x1="2275" y1="2979" x2="2370" y2="2979"/>
</g>

<g id="boundary-class-diagram">
<text class="ttl" x="796" y="2879" textLength="697" lengthAdjust="spacingAndGlyphs">boundaryパッケージのクラス図（一部）</text>
<rect class="box" x="762" y="2928" width="152" height="41"/>
<rect class="box" x="762" y="2969" width="604" height="294"/>
<text class="bfn c" x="838" y="2956" textLength="75" lengthAdjust="spacingAndGlyphs">boundary</text>
<rect class="box" x="845" y="2983" width="452" height="122"/>
<line class="ln" x1="845" y1="3038" x2="1297" y2="3038"/>
<line class="ln" x1="845" y1="3044" x2="1297" y2="3044"/>
<text class="bf c" x="1071" y="3009" textLength="106" lengthAdjust="spacingAndGlyphs">&lt;&lt;boundary&gt;&gt;</text>
<text class="bfn c" x="1071" y="3028" textLength="141" lengthAdjust="spacingAndGlyphs">ArticleCreatePage</text>
<text class="bf" x="853" y="3070" textLength="232" lengthAdjust="spacingAndGlyphs">+ confirm(contents: String): void</text>
<text class="bf" x="853" y="3098" textLength="427" lengthAdjust="spacingAndGlyphs">+ submit(contents: String, sharedLevel: SharedLevel): void</text>
<rect class="box" x="845" y="3121" width="452" height="122"/>
<line class="ln" x1="845" y1="3177" x2="1297" y2="3177"/>
<line class="ln" x1="845" y1="3183" x2="1297" y2="3183"/>
<text class="bf c" x="1071" y="3146" textLength="106" lengthAdjust="spacingAndGlyphs">&lt;&lt;boundary&gt;&gt;</text>
<text class="bfn c" x="1071" y="3165" textLength="152" lengthAdjust="spacingAndGlyphs">ArticleConfirmPage</text>
<text class="bf" x="853" y="3208" textLength="118" lengthAdjust="spacingAndGlyphs">+ confirm(): void</text>
<text class="bf" x="853" y="3235" textLength="434" lengthAdjust="spacingAndGlyphs">+ forward(contents: String, sharedLevel: SharedLevel): void</text>
<line class="dl" x1="1297" y1="3063" x2="1407" y2="3039"/>
<line class="dl" x1="1297" y1="3201" x2="1407" y2="3190"/>
<path class="box" d="M1407,2997 H1556 L1572,3013 V3080 H1407 Z"/>
<path class="ln" d="M1556,2997 V3013 H1572"/>
<text class="rt c" x="1490" y="3038">「日記投稿入力画</text>
<text class="rt c" x="1490" y="3058">面」クラス</text>
<path class="box" d="M1407,3149 H1556 L1572,3165 V3232 H1407 Z"/>
<path class="ln" d="M1556,3149 V3165 H1572"/>
<text class="rt c" x="1490" y="3189">「日記投稿確認画</text>
<text class="rt c" x="1490" y="3208">面」クラス</text>
</g>
</svg>
